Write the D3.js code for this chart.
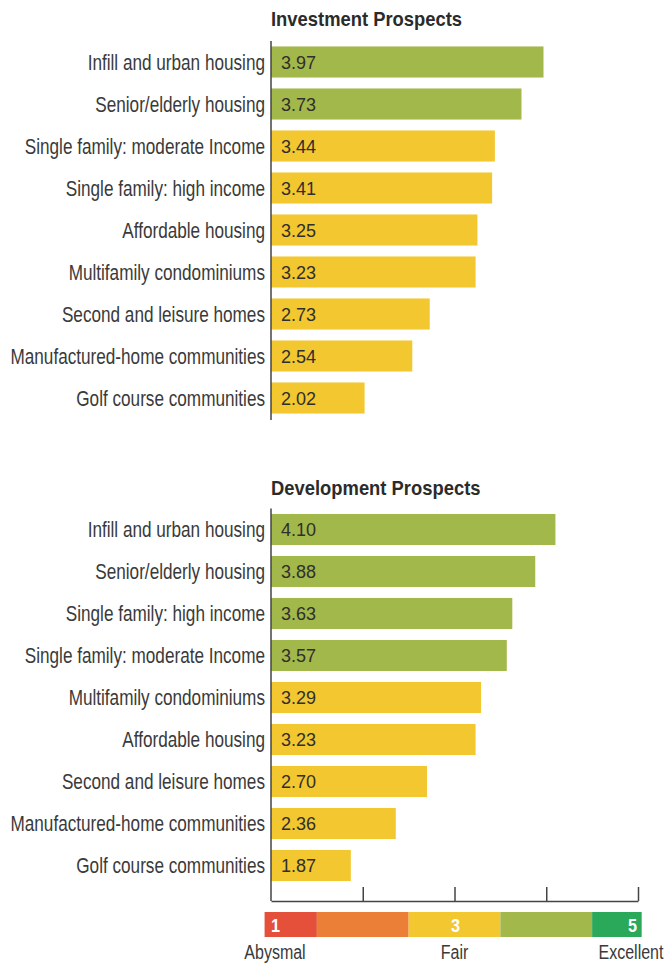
<!DOCTYPE html>
<html lang="en">
<head>
  <meta charset="UTF-8">
  <style>
    body {
      margin: 0;
      background: #fff;
    }

    svg {
      display: block;
    }

    .label {
      font-family: "Liberation Sans", Arial, sans-serif;
      font-size: 22px;
      fill: #3a3a3a;
    }

    .title {
      font-family: "Liberation Sans", Arial, sans-serif;
      font-weight: bold;
      font-size: 20px;
      fill: #2b2b2b;
    }

    .value {
      font-family: "Liberation Sans", Arial, sans-serif;
      font-size: 18px;
      fill: #2f2f2f;
    }
  </style>
  <script src="https://d3js.org/d3.v7.min.js"></script>
</head>
<body>

<svg id="chart"></svg>

<script>
  // investment prospects
  const investCategories = [
    "Infill and urban housing",
    "Senior/elderly housing",
    "Single family: moderate Income",
    "Single family: high income",
    "Affordable housing",
    "Multifamily condominiums",
    "Second and leisure homes",
    "Manufactured-home communities",
    "Golf course communities"
  ];
  const investValues = [3.97, 3.73, 3.44, 3.41, 3.25, 3.23, 2.73, 2.54, 2.02];

  // development prospects
  const devCategories = [
    "Infill and urban housing",
    "Senior/elderly housing",
    "Single family: high income",
    "Single family: moderate Income",
    "Multifamily condominiums",
    "Affordable housing",
    "Second and leisure homes",
    "Manufactured-home communities",
    "Golf course communities"
  ];
  const devValues = [4.10, 3.88, 3.63, 3.57, 3.29, 3.23, 2.70, 2.36, 1.87];

  const axisTicks = [2, 3, 4, 5];
  const legendStops = [0.93, 1.5, 2.5, 3.5, 4.5, 5.04];
  const legendColors = ["#e4503a", "#eb7f38", "#f3c730", "#a3b84a", "#2aa95b"];
  const legendNumbers = [{ v: 1, t: "1" }, { v: 3, t: "3" }, { v: 5, t: "5" }];
  const legendWords = [{ v: 1, t: "Abysmal" }, { v: 3, t: "Fair" }, { v: 5, t: "Excellent" }];

  const width = 667, height = 965;
  const svg = d3.select("#chart").attr("width", width).attr("height", height);

  const x = d3.scaleLinear().domain([1, 5]).range([271, 638]);
  const barColor = v => v >= 3.5 ? "#a3b84a" : "#f3c730";

  // no condensed face installed, so squeeze the text horizontally
  function condense(sel, sx) {
    sel.each(function () {
      const t = d3.select(this);
      const tx = +t.attr("x") || 0, ty = +t.attr("y") || 0;
      t.attr("x", 0).attr("y", 0)
        .attr("transform", `translate(${tx},${ty}) scale(${sx},1)`);
    });
  }

  function section(title, cats, vals, top, titleY, axisBottom) {
    const y = d3.scaleBand()
      .domain(cats)
      .range([top, top + cats.length * 42])
      .paddingInner(0.26)
      .paddingOuter(0.13);

    const g = svg.append("g");

    g.append("text")
      .attr("class", "title")
      .attr("x", x(1))
      .attr("y", titleY)
      .text(title)
      .call(condense, 0.92);

    g.selectAll("rect")
      .data(vals)
      .join("rect")
      .attr("x", x(1))
      .attr("y", (d, i) => y(cats[i]))
      .attr("width", d => x(d) - x(1))
      .attr("height", y.bandwidth())
      .attr("fill", d => barColor(d));

    g.selectAll(".value")
      .data(vals)
      .join("text")
      .attr("class", "value")
      .attr("x", x(1) + 10)
      .attr("y", (d, i) => y(cats[i]) + y.bandwidth() / 2 + 6.5)
      .text(d => d.toFixed(2));

    // category labels; the band axis already centres each tick
    const yAxis = g.append("g")
      .attr("transform", `translate(${x(1)},0)`)
      .call(d3.axisLeft(y).tickSize(0).tickPadding(6));
    yAxis.select(".domain").remove();
    yAxis.selectAll("text")
      .attr("class", "label")
      .attr("font-size", null)
      .attr("font-family", null)
      .attr("fill", null)
      .attr("dy", null)
      .attr("y", 7.5)
      .call(condense, 0.78);

    g.append("line")
      .attr("x1", x(1)).attr("x2", x(1))
      .attr("y1", top).attr("y2", axisBottom)
      .attr("stroke", "#444")
      .attr("stroke-width", 1.5);
  }

  section("Investment Prospects", investCategories, investValues, 41, 25.5, 420);
  section("Development Prospects", devCategories, devValues, 508.5, 495, 901);

  // bottom axis with ticks pointing up
  const xAxis = svg.append("g")
    .attr("transform", "translate(0,901)")
    .call(d3.axisTop(x).tickValues(axisTicks).tickSize(14).tickSizeOuter(0).tickFormat(""));
  xAxis.selectAll("path, line").attr("stroke", "#444").attr("stroke-width", 1.5);

  // rating legend
  const legend = svg.append("g");
  legend.selectAll("rect")
    .data(legendColors)
    .join("rect")
    .attr("x", (d, i) => x(legendStops[i]))
    .attr("y", 912)
    .attr("width", (d, i) => x(legendStops[i + 1]) - x(legendStops[i]))
    .attr("height", 25)
    .attr("fill", d => d);

  legend.selectAll(".num")
    .data(legendNumbers)
    .join("text")
    .attr("class", "num title")
    .attr("x", d => d.v === 1 ? x(d.v) : d.v === 5 ? x(d.v) - 1 : x(d.v) + 1)
    .attr("y", 932)
    .attr("text-anchor", d => d.v === 1 ? "start" : d.v === 5 ? "end" : "middle")
    .style("fill", "#fff")
    .style("font-size", "18px")
    .text(d => d.t)
    .call(condense, 0.9);

  legend.selectAll(".word")
    .data(legendWords)
    .join("text")
    .attr("class", "word label")
    .attr("x", d => d.v === 1 ? x(d.v) + 4 : d.v === 5 ? x(d.v) - 7 : x(d.v))
    .attr("y", 959)
    .attr("text-anchor", "middle")
    .style("font-size", "20px")
    .text(d => d.t)
    .call(condense, 0.8);
</script>

</body>
</html>
